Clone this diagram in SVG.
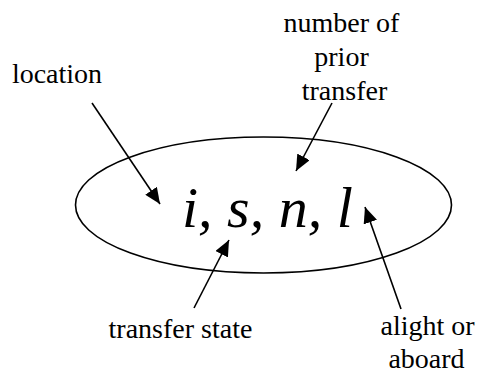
<svg xmlns="http://www.w3.org/2000/svg" width="483" height="381" viewBox="0 0 483 381" font-family="Times New Roman, Liberation Serif, serif">
<defs>
<marker id="ah" markerUnits="userSpaceOnUse" markerWidth="16" markerHeight="14" refX="16" refY="7" orient="auto">
<path d="M0,0 L16,7 L0,14 Z" fill="#000"/>
</marker>
</defs>
<g id="state">
<ellipse cx="263.5" cy="205" rx="188" ry="68" fill="#fff" stroke="#000" stroke-width="1.6"/>
<text font-family="Times New Roman, Liberation Serif, serif" font-size="58" font-style="italic" x="182" y="227">i, s, n, l</text>
</g>
<g id="location"><text font-family="Times New Roman, Liberation Serif, serif" font-size="28" text-anchor="middle" x="57" y="83">location</text></g>
<g id="prior">
<text font-family="Times New Roman, Liberation Serif, serif" font-size="28" text-anchor="middle" x="341.5" y="32">number of</text>
<text font-family="Times New Roman, Liberation Serif, serif" font-size="28" text-anchor="middle" x="341.5" y="66">prior</text>
<text font-family="Times New Roman, Liberation Serif, serif" font-size="28" text-anchor="middle" x="344.5" y="100">transfer</text>
</g>
<g id="transferstate"><text font-family="Times New Roman, Liberation Serif, serif" font-size="28" text-anchor="middle" x="180.5" y="338">transfer state</text></g>
<g id="alight">
<text font-family="Times New Roman, Liberation Serif, serif" font-size="28" text-anchor="middle" x="427.5" y="335">alight or</text>
<text font-family="Times New Roman, Liberation Serif, serif" font-size="28" text-anchor="middle" x="426.5" y="368">aboard</text>
</g>
<g id="connectors" stroke="#000" stroke-width="1.6" fill="none">
<line x1="92" y1="103" x2="160" y2="204" marker-end="url(#ah)"/>
<line x1="332" y1="103" x2="296" y2="171" marker-end="url(#ah)"/>
<line x1="194" y1="308" x2="229" y2="240" marker-end="url(#ah)"/>
<line x1="401" y1="309" x2="365" y2="207" marker-end="url(#ah)"/>
</g>
</svg>
